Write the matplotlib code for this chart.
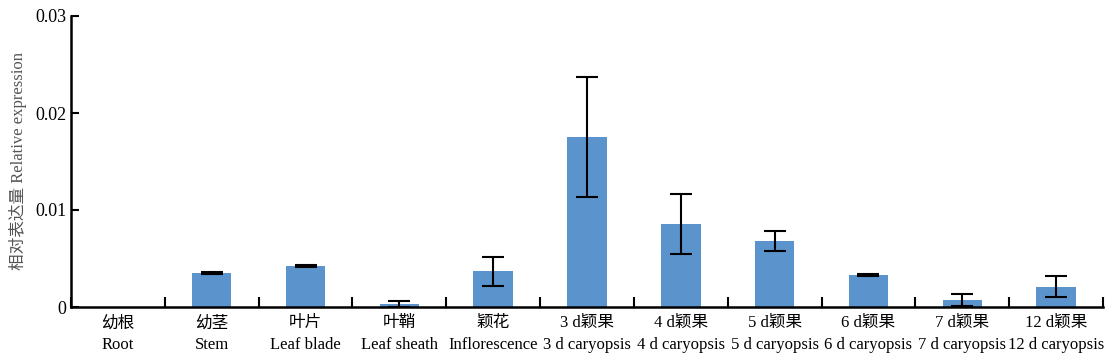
import matplotlib
matplotlib.use('Agg')
import matplotlib.pyplot as plt
import numpy as np

plt.rcParams['font.family'] = ['Liberation Serif', 'Noto Sans CJK SC']

labels_cn = ['幼根', '幼茎', '叶片', '叶鞘', '颖花', '3 d颖果', '4 d颖果',
             '5 d颖果', '6 d颖果', '7 d颖果', '12 d颖果']
labels_en = ['Root', 'Stem', 'Leaf blade', 'Leaf sheath', 'Inflorescence',
             '3 d caryopsis', '4 d caryopsis', '5 d caryopsis', '6 d caryopsis',
             '7 d caryopsis', '12 d caryopsis']
values = [0.0, 0.0035, 0.0042, 0.0003, 0.0037, 0.0175, 0.0086, 0.0068,
          0.0033, 0.0007, 0.0021]
errors = [0.0, 0.0001, 0.0001, 0.0003, 0.0015, 0.0062, 0.0031, 0.0010,
          0.0001, 0.0006, 0.0011]

fig = plt.figure(figsize=(11.15, 3.6), dpi=100)
ax = fig.add_axes([71 / 1115, 53 / 360, 1032 / 1115, 291 / 360])

x = np.arange(len(values))
ax.bar(x, values, width=0.42, color='#5B93CC', zorder=2)
mask = np.array(errors) > 0
ax.errorbar(x[mask], np.array(values)[mask], yerr=np.array(errors)[mask],
            fmt='none', ecolor='black', elinewidth=1.5, capsize=8,
            capthick=1.5, zorder=3)

ax.set_xlim(-0.5, len(values) - 0.5)
ax.set_ylim(0, 0.03)
ax.set_yticks([0, 0.01, 0.02, 0.03])
ax.set_yticklabels(['0', '0.01', '0.02', '0.03'])

ax.set_xticks(x)
ax.set_xticklabels([f'{c}\n{e}' for c, e in zip(labels_cn, labels_en)],
                   fontsize=12, linespacing=1.45)
ax.tick_params(axis='x', length=0, pad=6)
ax.set_xticks(np.arange(len(values) + 1) - 0.5, minor=True)
ax.tick_params(axis='x', which='minor', direction='in', length=7, width=1.5)
ax.tick_params(axis='y', direction='in', length=6, width=1.5, labelsize=13)

for s in ['top', 'right']:
    ax.spines[s].set_visible(False)
for s in ['left', 'bottom']:
    ax.spines[s].set_linewidth(1.8)

ax.set_ylabel('相对表达量 Relative expression', fontsize=12, color='#555555')
ax.yaxis.set_label_coords(-0.043, 0.5)

fig.savefig('out.png', dpi=100)
